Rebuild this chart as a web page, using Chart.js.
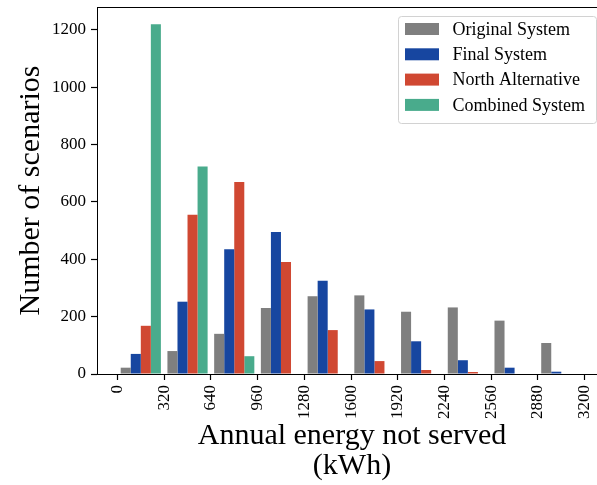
<!DOCTYPE html>
<html>
<head>
<meta charset="utf-8">
<script src="https://cdn.jsdelivr.net/npm/chart.js@4"></script>
<style>
  html, body { margin: 0; padding: 0; background: #fff; overflow: hidden; }
  #wrap { width: 612px; height: 485px; }
</style>
</head>
<body>
<div id="wrap"><canvas id="chart" width="612" height="485"></canvas></div>
<script>
// bin centres of the histogram (kWh), bins are 320 wide
const binCenters = [160, 480, 800, 1120, 1440, 1760, 2080, 2400, 2720, 3040];
const xTicks = [0, 320, 640, 960, 1280, 1600, 1920, 2240, 2560, 2880, 3200];
const yTicks = [0, 200, 400, 600, 800, 1000, 1200];

const seriesNames = ["Original System", "Final System", "North Alternative", "Combined System"];
const original = [22, 80, 140, 230, 271, 274, 217, 232, 186, 108];
const finalSys = [70, 252, 435, 495, 325, 225, 114, 48, 22, 8];
const north = [168, 555, 669, 390, 153, 45, 14, 7, 0, 0];
const combined = [1219, 723, 62, 0, 0, 0, 0, 0, 0, 0];
const colors = ["#7f7f7f", "#1746a0", "#d04832", "#49ab8c"];

const FONT = "'Liberation Serif', 'Times New Roman', serif";
Chart.defaults.font.family = FONT;
Chart.defaults.color = "#000";

function punten(vals) {
  return binCenters.map((x, i) => ({ x: x, y: vals[i] }));
}

// legend in de rechterbovenhoek van het plotgebied
const legendBox = {
  id: "legendBox",
  afterDatasetsDraw(chart) {
    const ctx = chart.ctx;
    const ca = chart.chartArea;
    const bx = ca.right - 209, by = ca.top + 9, bw = 198, bh = 107;
    ctx.save();
    ctx.beginPath();
    ctx.roundRect(bx + 0.5, by + 0.5, bw, bh, 3);
    ctx.fillStyle = "rgba(255,255,255,0.85)";
    ctx.fill();
    ctx.strokeStyle = "#d2d2d2";
    ctx.lineWidth = 1;
    ctx.stroke();
    ctx.font = "18px " + FONT;
    ctx.textBaseline = "middle";
    ctx.textAlign = "left";
    chart.data.datasets.forEach((ds, i) => {
      const cy = by + 13 + i * 25.3;
      ctx.fillStyle = ds.backgroundColor;
      ctx.fillRect(bx + 7, cy - 6, 34, 12);
      ctx.fillStyle = "#000";
      ctx.fillText(ds.label, bx + 54.5, cy + 1);
    });
    ctx.restore();
  }
};

// bovenste as-lijn (spine)
const frame = {
  id: "frame",
  afterDraw(chart) {
    const ctx = chart.ctx;
    const ca = chart.chartArea;
    ctx.save();
    ctx.strokeStyle = "#000";
    ctx.lineWidth = 1;
    ctx.beginPath();
    ctx.moveTo(ca.left, ca.top + 0.5);
    ctx.lineTo(ca.right, ca.top + 0.5);
    ctx.lineTo(ca.right, ca.bottom);
    ctx.stroke();
    ctx.restore();
  }
};

new Chart(document.getElementById("chart"), {
  type: "bar",
  data: {
    datasets: [
      { label: seriesNames[0], data: punten(original), backgroundColor: colors[0] },
      { label: seriesNames[1], data: punten(finalSys), backgroundColor: colors[1] },
      { label: seriesNames[2], data: punten(north), backgroundColor: colors[2] },
      { label: seriesNames[3], data: punten(combined), backgroundColor: colors[3] }
    ]
  },
  options: {
    responsive: false,
    animation: false,
    devicePixelRatio: 1,
    layout: { padding: { top: 7, right: 5, left: 0, bottom: 0 } },
    datasets: { bar: { categoryPercentage: 0.86, barPercentage: 1.0, borderWidth: 0 } },
    plugins: { legend: { display: false }, tooltip: { enabled: false } },
    scales: {
      x: {
        type: "linear",
        min: -140,
        max: 3353,
        offset: false,
        afterBuildTicks: s => { s.ticks = xTicks.map(v => ({ value: v })); },
        afterFit: s => { s.height = 111; s.paddingLeft = 0; s.paddingRight = 0; },
        grid: { offset: false, drawOnChartArea: false, drawTicks: true, tickLength: 6, tickWidth: 1.2, tickColor: "#000" },
        border: { display: true, color: "#000", width: 1 },
        ticks: { autoSkip: false, minRotation: 90, maxRotation: 90, padding: 5, font: { size: 17 }, callback: v => String(v) },
        title: {
          display: true,
          text: ["Annual energy not served", "(kWh)"],
          font: { size: 30, lineHeight: 1.0 },
          padding: { top: 0, bottom: 4 }
        }
      },
      y: {
        min: 0,
        max: 1279,
        afterBuildTicks: s => { s.ticks = yTicks.map(v => ({ value: v })); },
        afterFit: s => { s.width = 97; s.paddingTop = 0; s.paddingBottom = 0; },
        grid: { drawOnChartArea: false, drawTicks: true, tickLength: 6, tickWidth: 1.2, tickColor: "#000" },
        border: { display: true, color: "#000", width: 1 },
        ticks: { padding: 5, font: { size: 17 }, callback: v => String(v) },
        title: {
          display: true,
          text: "Number of scenarios",
          font: { size: 30, lineHeight: 1.0 },
          padding: { top: 16, bottom: 0 }
        }
      }
    }
  },
  plugins: [legendBox, frame]
});
</script>
</body>
</html>
